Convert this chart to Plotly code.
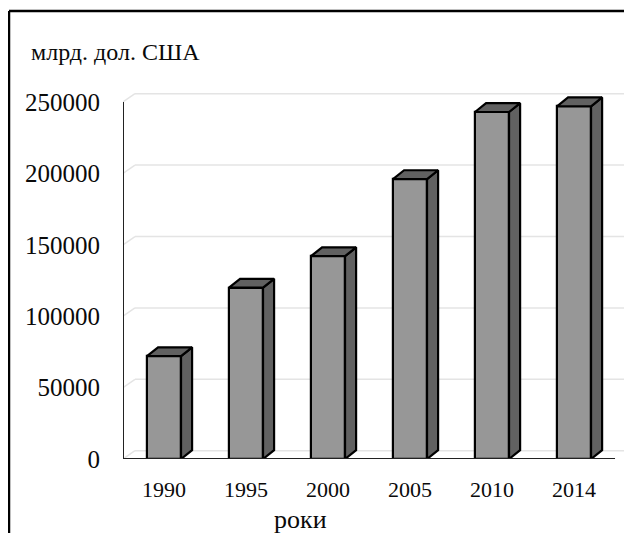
import plotly.graph_objects as go

# ---- data ----
years = ["1990", "1995", "2000", "2005", "2010", "2014"]
values = [72000, 120000, 142000, 196000, 243000, 247000]
y_ticks = [0, 50000, 100000, 150000, 200000, 250000]
y_tick_labels = ["0", "50000", "100000", "150000", "200000", "250000"]
y_title = "млрд. дол. США"
x_title = "роки"

# ---- geometry / style ----
OFF = 8  # page body margin
W, H = 632 - OFF, 533 - OFF
ML, MR, MT, MB = 123 - OFF, 5, 92 - OFF, 74
BAR_W = 0.415
BAR_DX, BAR_DY = 0.135, 6200
WALL_DX, WALL_DY = 0.146, 5800
X_MIN, X_MAX = -0.5, len(years) - 0.5 + WALL_DX
Y_MAX = 257000
FRONT = "#979797"
DARK = "#616161"
FONT = "Liberation Serif"
TXT = "#0a0a0a"

xs = list(range(len(years)))
fig = go.Figure()

# front faces
fig.add_trace(go.Bar(
    x=xs, y=values, width=BAR_W,
    marker=dict(color=FRONT, line=dict(color="black", width=2.2)),
    hoverinfo="skip", showlegend=False,
))

# top and side faces
for xi, v in zip(xs, values):
    l, r = xi - BAR_W / 2, xi + BAR_W / 2
    top_x = [l, l + BAR_DX, r + BAR_DX, r, l]
    top_y = [v, v + BAR_DY, v + BAR_DY, v, v]
    side_x = [r, r + BAR_DX, r + BAR_DX, r, r]
    side_y = [0, BAR_DY, v + BAR_DY, v, 0]
    for px, py in ((side_x, side_y), (top_x, top_y)):
        fig.add_trace(go.Scatter(
            x=px, y=py, mode="lines", fill="toself", fillcolor=DARK,
            line=dict(color="black", width=2.2), hoverinfo="skip",
            showlegend=False,
        ))

shapes = []
# gridlines on back wall + side wall
for t in y_ticks:
    shapes.append(dict(type="line", xref="x", yref="y", layer="below",
                       x0=X_MIN, y0=t, x1=X_MIN + WALL_DX, y1=t + WALL_DY,
                       line=dict(color="#e4e4e4", width=1.5)))
    shapes.append(dict(type="line", xref="x", yref="y", layer="below",
                       x0=X_MIN + WALL_DX, y0=t + WALL_DY,
                       x1=X_MAX, y1=t + WALL_DY,
                       line=dict(color="#e4e4e4", width=1.5)))
# axis lines
shapes.append(dict(type="line", xref="x", yref="y", layer="above",
                   x0=X_MIN, y0=0, x1=len(years) - 0.5, y1=0,
                   line=dict(color="#222", width=2)))
shapes.append(dict(type="line", xref="x", yref="y", layer="above",
                   x0=X_MIN, y0=0, x1=X_MIN, y1=y_ticks[-1],
                   line=dict(color="#222", width=2)))

# outer frame (left and top) in paper coords; inputs are window pixels
pw, ph = W - ML - MR, H - MT - MB
def px2x(p): return (p - OFF - ML) / pw
def py2y(p): return (H - MB - (p - OFF)) / ph
shapes.append(dict(type="line", xref="paper", yref="paper",
                   x0=px2x(9), y0=py2y(11), x1=px2x(640), y1=py2y(11),
                   line=dict(color="black", width=2.5)))
shapes.append(dict(type="line", xref="paper", yref="paper",
                   x0=px2x(9), y0=py2y(11), x1=px2x(9), y1=py2y(540),
                   line=dict(color="black", width=2.5)))

annotations = [
    dict(text=y_title, xref="paper", yref="paper", x=px2x(29), y=py2y(52),
         xanchor="left", yanchor="middle", showarrow=False,
         font=dict(family=FONT, size=24, color=TXT)),
    dict(text=x_title, xref="paper", yref="paper", x=px2x(300), y=py2y(519),
         xanchor="center", yanchor="middle", showarrow=False,
         font=dict(family=FONT, size=26, color=TXT)),
]

fig.update_layout(
    width=W, height=H,
    margin=dict(l=ML, r=MR, t=MT, b=MB, pad=0),
    paper_bgcolor="white", plot_bgcolor="white",
    shapes=shapes, annotations=annotations,
    bargap=0,
    xaxis=dict(range=[X_MIN, X_MAX], tickvals=xs, ticktext=years,
               showgrid=False, zeroline=False, showline=False,
               ticks="", ticklabelstandoff=15,
               tickfont=dict(family=FONT, size=22, color=TXT)),
    yaxis=dict(range=[0, Y_MAX], tickvals=y_ticks, ticktext=y_tick_labels,
               showgrid=False, zeroline=False, showline=False,
               ticks="", ticklabelstandoff=22,
               tickfont=dict(family=FONT, size=25, color=TXT)),
)

fig.write_html("out.html")
